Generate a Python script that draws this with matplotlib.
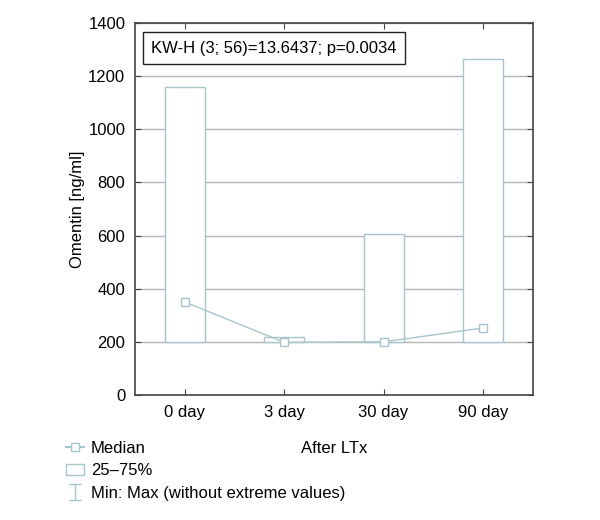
import matplotlib
matplotlib.use("Agg")
import matplotlib.pyplot as plt
from matplotlib.lines import Line2D
from matplotlib.patches import Patch
from matplotlib.path import Path

plt.rcParams['font.family'] = ['Liberation Sans', 'DejaVu Sans']

days = ['0 day', '3 day', '30 day', '90 day']
q25 = [200, 200, 200, 200]
q75 = [1160, 220, 605, 1265]
median = [350, 198, 200, 252]
stat_text = 'KW-H (3; 56)=13.6437; p=0.0034'

box_col = '#a8c5cb'
spine_col = '#444444'
fs = 12

fig = plt.figure(figsize=(6, 5.2), dpi=100)
ax = fig.add_axes([0.225, 0.2404, 0.663, 0.7156])

x = list(range(len(days)))
heights = [b - a for a, b in zip(q25, q75)]
ax.bar(x, heights, bottom=q25, width=0.4, color='white', edgecolor=box_col,
       linewidth=1.0, zorder=3)
ax.plot(x, median, color=box_col, marker='s', markersize=5.5, mfc='white',
        mec=box_col, linewidth=1.0, zorder=4)

ax.set_xlim(-0.5, 3.5)
ax.set_ylim(0, 1400)
ax.set_yticks(range(0, 1401, 200))
ax.set_xticks(x)
ax.set_xticklabels(days)
ax.yaxis.grid(True, color='#b5b5b5', linewidth=1.0, zorder=0)
ax.set_axisbelow(True)
ax.tick_params(direction='in', top=True, right=True, labelsize=fs,
               color=spine_col, length=4, pad=7)
for s in ax.spines.values():
    s.set_color(spine_col)
    s.set_linewidth(1.2)

ax.set_ylabel('Omentin [ng/ml]', fontsize=fs, labelpad=2)
ax.set_xlabel('After LTx', fontsize=fs, labelpad=15)

ax.text(0.04, 0.952, stat_text, transform=ax.transAxes, fontsize=fs,
        va='top', ha='left', zorder=5,
        bbox=dict(boxstyle='square,pad=0.5', facecolor='white',
                  edgecolor='#222222', linewidth=1.0))

ibeam = Path([(-0.5, 0.6), (0.5, 0.6), (0, 0.6), (0, -0.6), (-0.5, -0.6), (0.5, -0.6)],
             [Path.MOVETO, Path.LINETO, Path.MOVETO, Path.LINETO, Path.MOVETO, Path.LINETO])
handles = [
    Line2D([], [], color=box_col, marker='s', markersize=5.5, mfc='white', mec=box_col),
    Patch(facecolor='white', edgecolor=box_col),
    Line2D([], [], color=box_col, marker=ibeam, markersize=11, linestyle='none'),
]
labels = ['Median', '25\u201375%', 'Min: Max (without extreme values)']
fig.legend(handles, labels, loc='upper left', bbox_to_anchor=(0.11, 0.152),
           frameon=False, fontsize=fs, handlelength=1.1, handletextpad=0.4,
           labelspacing=0.45, borderpad=0, borderaxespad=0)

fig.savefig('out.png', dpi=100)
